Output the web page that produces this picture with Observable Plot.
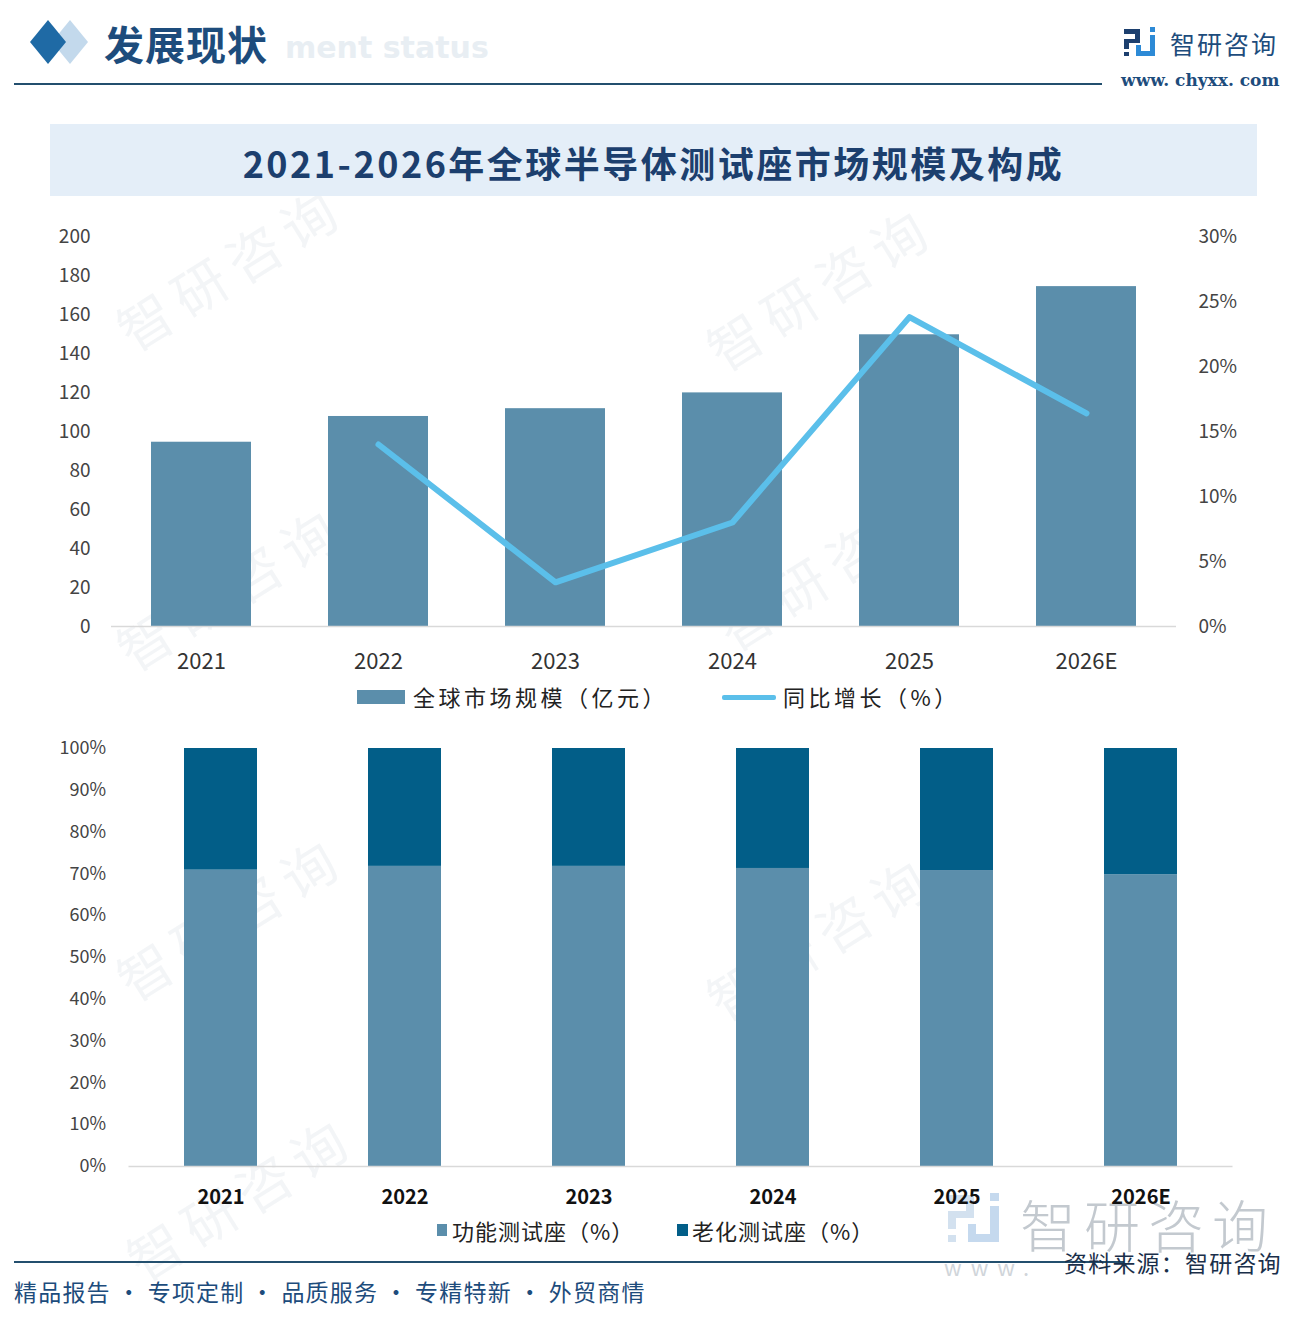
<!DOCTYPE html>
<html><head><meta charset="utf-8">
<script src="https://cdn.jsdelivr.net/npm/d3@7"></script>
<script src="https://cdn.jsdelivr.net/npm/@observablehq/plot@0.6"></script>
<style>
body{margin:0;background:#fff;}
#page{position:relative;width:1316px;height:1318px;overflow:hidden;background:#fff;font-family:"Noto Sans CJK SC","Noto Sans",sans-serif;}
.abs{position:absolute;white-space:nowrap;}
.wm{position:absolute;white-space:nowrap;font-size:54px;color:rgba(140,160,180,0.10);transform:rotate(-32deg);transform-origin:left top;letter-spacing:10px;}
.chart{position:absolute;left:0;}
</style></head><body><div id="page">
<!-- background watermarks -->
<div class="wm" style="left:100px;top:300px;">智研咨询</div>
<div class="wm" style="left:690px;top:320px;">智研咨询</div>
<div class="wm" style="left:100px;top:620px;">智研咨询</div>
<div class="wm" style="left:700px;top:600px;">智研咨询</div>
<div class="wm" style="left:100px;top:950px;">智研咨询</div>
<div class="wm" style="left:690px;top:970px;">智研咨询</div>
<div class="wm" style="left:110px;top:1230px;">智研咨询</div>

<!-- header -->
<svg class="abs" style="left:20px;top:18px;" width="80" height="50">
  <polygon points="50,2 68,24 50,46 32,24" fill="#c3d9ec"/>
  <polygon points="28,2 46,24 28,46 10,24" fill="#1f6aa5"/>
</svg>
<div class="abs" style="left:285px;top:30px;font-size:30px;font-weight:700;color:#e8eef3;font-family:'DejaVu Sans',sans-serif;">ment status</div>
<div class="abs" style="left:104px;top:14px;font-size:40px;font-weight:700;color:#1d4c7c;letter-spacing:1px;">发展现状</div>
<div class="abs" style="left:14px;top:83px;width:1088px;height:2px;background:#234f6e;"></div>
<svg class="abs" style="left:1124px;top:27px;" width="34" height="32">
  <rect x="0" y="2" width="16" height="5" fill="#1c3f6e"/>
  <rect x="11" y="2" width="5" height="14" fill="#1c3f6e"/>
  <rect x="0" y="12" width="16" height="4" fill="#1c3f6e"/>
  <rect x="0" y="12" width="5" height="10" fill="#1c3f6e"/>
  <rect x="0" y="25" width="5" height="4" fill="#1c3f6e"/>
  <rect x="26" y="0" width="5" height="5" fill="#2d8ad6"/>
  <rect x="26" y="8" width="5" height="21" fill="#2d8ad6"/>
  <rect x="12" y="24" width="19" height="5" fill="#2d8ad6"/>
  <rect x="12" y="18" width="5" height="11" fill="#2d8ad6"/>
</svg>
<div class="abs" style="left:1170px;top:25px;font-size:25px;color:#1d4c7c;letter-spacing:2px;">智研咨询</div>
<div class="abs" style="left:1121px;top:70px;font-size:17px;color:#1d4c7c;font-family:'DejaVu Serif','Liberation Serif',serif;font-weight:700;">www. chyxx. com</div>

<!-- title box -->
<div class="abs" style="left:50px;top:124px;width:1207px;height:72px;background:#e4eef8;"></div>
<div class="abs" style="left:50px;top:136px;width:1207px;text-align:center;font-size:36px;font-weight:700;color:#1c3f6e;letter-spacing:2.5px;">2021-2026年全球半导体测试座市场规模及构成</div>

<!-- footer watermark logo (behind chart text) -->
<svg class="abs" style="left:948px;top:1193px;" width="56" height="54">
  <rect x="0" y="2" width="26" height="8" fill="#d3e1ef"/>
  <rect x="18" y="2" width="8" height="22" fill="#d3e1ef"/>
  <rect x="0" y="18" width="26" height="7" fill="#d3e1ef"/>
  <rect x="0" y="18" width="8" height="18" fill="#d3e1ef"/>
  <rect x="0" y="42" width="8" height="7" fill="#d3e1ef"/>
  <rect x="42" y="0" width="9" height="8" fill="#c5d9ee"/>
  <rect x="42" y="13" width="9" height="36" fill="#c5d9ee"/>
  <rect x="20" y="41" width="31" height="8" fill="#c5d9ee"/>
  <rect x="20" y="31" width="8" height="18" fill="#c5d9ee"/>
</svg>
<div class="abs" style="left:1020px;top:1182px;font-size:56px;color:#c3c9cf;letter-spacing:8px;font-weight:300;">智研咨询</div>
<div class="abs" style="left:944px;top:1250px;font-size:22px;color:#d0d5da;letter-spacing:9px;">www.</div>

<div id="topBars" class="chart" style="top:220px;"></div>
<div id="topLine" class="chart" style="top:220px;"></div>

<!-- top legend -->
<div class="abs" style="left:357px;top:690px;width:48px;height:14px;background:#5b8eab;"></div>
<div class="abs" style="left:413px;top:680px;font-size:22px;color:#222;letter-spacing:3.5px;">全球市场规模（亿元）</div>
<div class="abs" style="left:722px;top:695px;width:54px;height:5px;background:#5bbfea;border-radius:2px;"></div>
<div class="abs" style="left:783px;top:680px;font-size:22px;color:#222;letter-spacing:3.5px;">同比增长（%）</div>

<div id="bottomBars" class="chart" style="top:730px;"></div>

<!-- bottom legend -->
<div class="abs" style="left:437px;top:1224px;width:10px;height:12px;background:#5b8eab;"></div>
<div class="abs" style="left:452px;top:1214px;font-size:22px;color:#222;letter-spacing:1px;">功能测试座（%）</div>
<div class="abs" style="left:677px;top:1224px;width:11px;height:12px;background:#025e88;"></div>
<div class="abs" style="left:692px;top:1214px;font-size:22px;color:#222;letter-spacing:1px;">老化测试座（%）</div>

<!-- footer -->
<div class="abs" style="left:14px;top:1261px;width:1110px;height:2px;background:#234f6e;"></div>
<div class="abs" style="left:1064px;top:1245px;font-size:23px;color:#1a2f4a;letter-spacing:1.2px;">资料来源：智研咨询</div>
<div class="abs" style="left:14px;top:1274px;font-size:23px;color:#1d4c7c;letter-spacing:1.2px;">精品报告 · 专项定制 · 品质服务 · 专精特新 · 外贸商情</div>
</div>

<script>
// ---- data ----
const years = ["2021", "2022", "2023", "2024", "2025", "2026E"];
const marketSize = [94.5, 107.7, 111.7, 119.8, 149.6, 174.3];           // 全球市场规模（亿元）
const growthYears = ["2022", "2023", "2024", "2025", "2026E"];
const growthRate = [0.140, 0.034, 0.080, 0.238, 0.164];                 // 同比增长
const functionalShare = [0.709, 0.718, 0.718, 0.713, 0.708, 0.698];     // 功能测试座
const agingShare = [0.291, 0.282, 0.282, 0.287, 0.292, 0.302];          // 老化测试座
const leftTicks = [0, 20, 40, 60, 80, 100, 120, 140, 160, 180, 200];
const rightTicks = [0, 0.05, 0.10, 0.15, 0.20, 0.25, 0.30];
const shareTicks = [0, 0.1, 0.2, 0.3, 0.4, 0.5, 0.6, 0.7, 0.8, 0.9, 1.0];
const shareSeries = ["功能测试座（%）", "老化测试座（%）"];

const FONT = '"Noto Sans CJK SC","Noto Sans",sans-serif';
const pct = d3.format(".0%");

// ---- top: bars ----
const barData = years.map((y, i) => ({year: y, value: marketSize[i]}));
const topBars = Plot.plot({
  width: 1316, height: 460,
  marginTop: 16, marginBottom: 54, marginLeft: 111, marginRight: 140,
  style: {background: "transparent", fontFamily: FONT},
  x: {type: "band", domain: years, paddingInner: 0.436, paddingOuter: 0.218},
  y: {domain: [0, 200]},
  marks: [
    Plot.barY(barData, {x: "year", y: "value", fill: "#5b8eab"}),
    Plot.ruleY([0], {stroke: "#d9d9d9", strokeWidth: 1.5}),
    Plot.axisY({ticks: leftTicks, tickSize: 0, tickPadding: 21, fontSize: 19, fill: "#444", label: null}),
    Plot.axisX({tickSize: 0, tickPadding: 27, fontSize: 22, fill: "#333", label: null})
  ]
});
document.getElementById("topBars").appendChild(topBars);

// ---- top: growth line (right axis) ----
const lineData = growthYears.map((y, i) => ({year: y, value: growthRate[i]}));
const topLine = Plot.plot({
  width: 1316, height: 460,
  marginTop: 16, marginBottom: 54, marginLeft: 111, marginRight: 140,
  style: {background: "transparent", fontFamily: FONT},
  x: {type: "point", domain: years, padding: 0.5, axis: null},
  y: {domain: [0, 0.30]},
  marks: [
    Plot.line(lineData, {x: "year", y: "value", stroke: "#5bbfea", strokeWidth: 6, strokeLinejoin: "round", strokeLinecap: "round"}),
    Plot.axisY({anchor: "right", ticks: rightTicks, tickFormat: pct, tickSize: 0, tickPadding: 22, fontSize: 19, fill: "#444", label: null})
  ]
});
document.getElementById("topLine").appendChild(topLine);

// ---- bottom: composition ----
const shareData = [
  ...years.map((y, i) => ({year: y, type: shareSeries[0], value: functionalShare[i]})),
  ...years.map((y, i) => ({year: y, type: shareSeries[1], value: agingShare[i]}))
];
const bottomBars = Plot.plot({
  width: 1316, height: 500,
  marginTop: 18, marginBottom: 64, marginLeft: 128.5, marginRight: 83.5,
  style: {background: "transparent", fontFamily: FONT},
  x: {type: "band", domain: years, paddingInner: 0.603, paddingOuter: 0.3015},
  y: {domain: [0, 1]},
  color: {domain: shareSeries, range: ["#5b8eab", "#025e88"]},
  marks: [
    Plot.barY(shareData, {x: "year", y: "value", fill: "type"}),
    Plot.ruleY([0], {stroke: "#d9d9d9", strokeWidth: 1.5}),
    Plot.axisY({ticks: shareTicks, tickFormat: pct, tickSize: 0, tickPadding: 23, fontSize: 18, fill: "#444", label: null}),
    Plot.axisX({tickSize: 0, tickPadding: 23, fontSize: 20, fontWeight: 700, fill: "#111", label: null})
  ]
});
document.getElementById("bottomBars").appendChild(bottomBars);
</script>
</body></html>
